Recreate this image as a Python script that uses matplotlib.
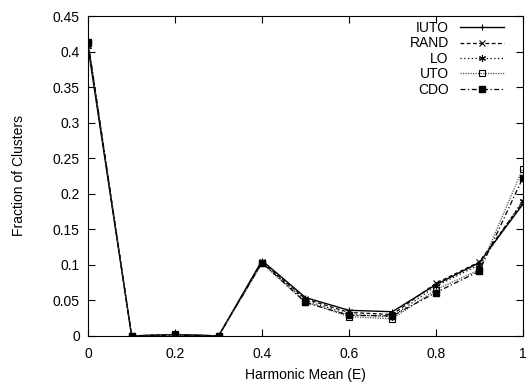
import matplotlib
matplotlib.use("Agg")
import matplotlib.pyplot as plt

plt.rcParams['font.family'] = ['Liberation Sans', 'DejaVu Sans']

x = [0, 0.1, 0.2, 0.3, 0.4, 0.5, 0.6, 0.7, 0.8, 0.9, 1.0]
iuto = [0.405, 0, 0.002, 0, 0.106, 0.054, 0.036, 0.034, 0.072, 0.103, 0.185]
rand = [0.410, 0, 0.002, 0, 0.104, 0.052, 0.033, 0.030, 0.074, 0.104, 0.188]
lo = [0.411, 0, 0.002, 0, 0.103, 0.050, 0.030, 0.027, 0.070, 0.100, 0.190]
uto = [0.412, 0, 0.002, 0, 0.102, 0.048, 0.027, 0.024, 0.065, 0.093, 0.235]
cdo = [0.413, 0, 0.001, 0, 0.103, 0.047, 0.029, 0.028, 0.061, 0.091, 0.222]

fig = plt.figure(figsize=(5.28, 3.83), dpi=100)
ax = fig.add_axes([0.167, 0.123, 0.823, 0.835])

ax.plot(x, iuto, color='black', lw=1, ls='-', marker='+', ms=5, mew=0.8, label='IUTO')
ax.plot(x, rand, color='black', lw=0.9, ls=(0, (3, 2)), marker='x', ms=4, mew=0.8, label='RAND')
ax.plot(x, lo, color='black', lw=0.9, ls=(0, (1, 2)), marker=(6, 2, 0), ms=5, mew=0.8, label='LO')
ax.plot(x, uto, color='#555555', lw=0.9, ls=(0, (1, 1)), marker='s', ms=4, mfc='none', mec='black', mew=0.8, label='UTO')
ax.plot(x, cdo, color='black', lw=0.9, ls=(0, (4, 2, 1, 2)), marker='s', ms=4, mfc='black', mec='black', label='CDO')

ax.set_xlim(0, 1)
ax.set_ylim(0, 0.45)
ax.set_xticks([0, 0.2, 0.4, 0.6, 0.8, 1])
ax.set_xticklabels(['0', '0.2', '0.4', '0.6', '0.8', '1'])
ax.set_yticks([0, 0.05, 0.1, 0.15, 0.2, 0.25, 0.3, 0.35, 0.4, 0.45])
ax.set_yticklabels(['0', '0.05', '0.1', '0.15', '0.2', '0.25', '0.3', '0.35', '0.4', '0.45'])
ax.tick_params(direction='in', top=True, right=True, labelsize=10, length=5)
ax.tick_params(axis='x', pad=8)
ax.tick_params(axis='y', pad=6)
ax.set_xlabel('Harmonic Mean (E)', fontsize=10, labelpad=5)
ax.set_ylabel('Fraction of Clusters', fontsize=10, labelpad=19)

ax.legend(loc='upper right', bbox_to_anchor=(0.98, 1.015), frameon=False, markerfirst=False,
          fontsize=10, handlelength=3.2, labelspacing=0.1, borderaxespad=0.3, handletextpad=0.8)

fig.savefig('out.png', dpi=100)
